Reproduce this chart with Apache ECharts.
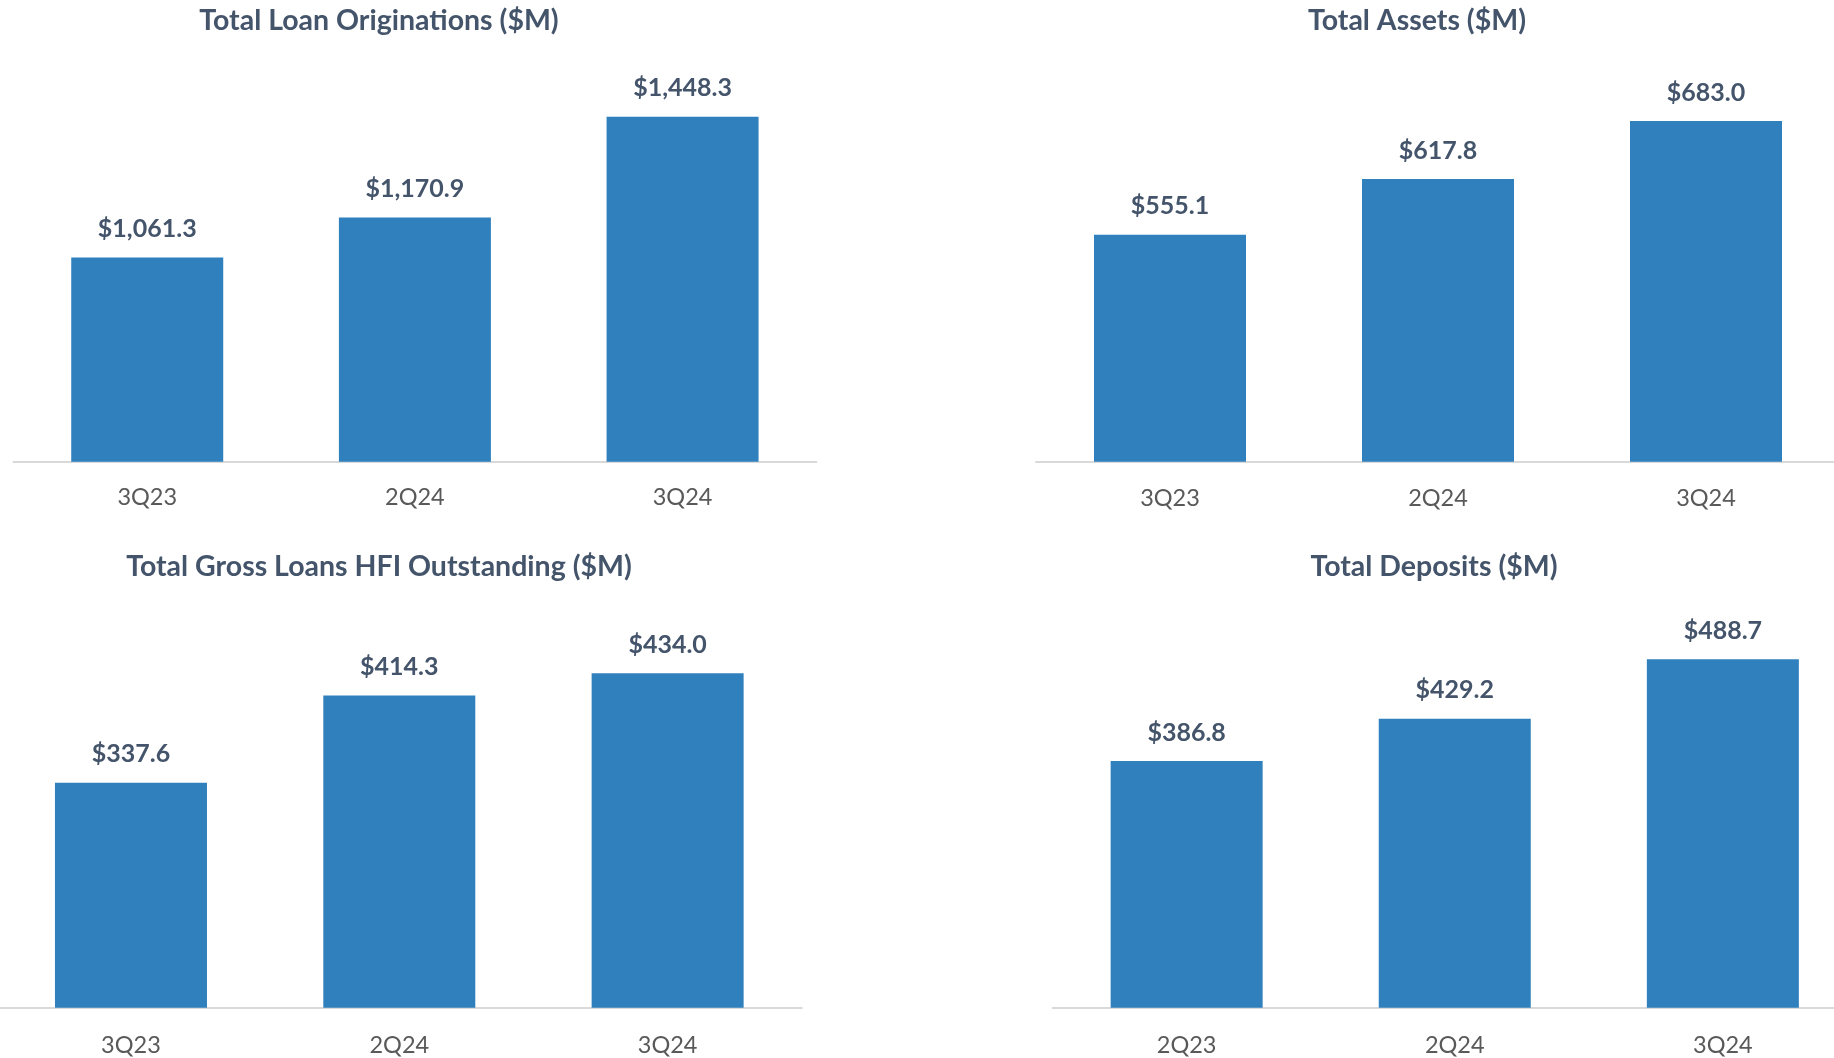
<!DOCTYPE html>
<html>
<head>
<meta charset="utf-8">
<script src="https://cdn.jsdelivr.net/npm/echarts@6/dist/echarts.min.js"></script>
<style>
html,body{margin:0;padding:0;background:#fff;overflow:hidden;width:1834px;height:1058px;}
/* 画布比窗口宽一点，左右都留出余量，免得网格被裁 */
#main{position:absolute;left:-20px;top:0;width:1900px;height:1058px;}
</style>
</head>
<body>
<div id="main"></div>
<script>
// 四个小图的数据
var titles = ['Total Loan Originations ($M)', 'Total Assets ($M)', 'Total Gross Loans HFI Outstanding ($M)', 'Total Deposits ($M)'];
var cats1 = ['3Q23', '2Q24', '3Q24'];
var cats2 = ['3Q23', '2Q24', '3Q24'];
var cats3 = ['3Q23', '2Q24', '3Q24'];
var cats4 = ['2Q23', '2Q24', '3Q24'];
var loans = [1061.3, 1170.9, 1448.3];
var assets = [555.1, 617.8, 683.0];
var grossLoans = [337.6, 414.3, 434.0];
var deposits = [386.8, 429.2, 488.7];

var myChart = echarts.init(document.getElementById('main'));

var fontName = 'Lato';
var dark = '#44546A';
var barColor = '#2F80BD';
var dx = 20; // 画布向左移了20px

// 每个图的位置（窗口坐标）
var boxes = [
    {left: 13.4, top: 61.5, width: 803, height: 400.2, min: 500, max: 1600, tx: 379, ty: 21, m: 24},
    {left: 1036, top: 61.5, width: 804, height: 400.2, min: 300, max: 750, tx: 1417, ty: 21, m: 25},
    {left: -3.2, top: 598, width: 805, height: 409.8, min: 140, max: 500, tx: 379, ty: 567, m: 26},
    {left: 1052.6, top: 598, width: 804.3, height: 409.8, min: 140, max: 550, tx: 1434, ty: 567, m: 26}
];
var allCats = [cats1, cats2, cats3, cats4];
var allData = [loans, assets, grossLoans, deposits];

function money(v){
    var s = v.toFixed(1);
    var parts = s.split('.');
    parts[0] = parts[0].replace(/\B(?=(\d{3})+(?!\d))/g, ',');
    return '$' + parts.join('.');
}

var option = {
    backgroundColor: '#fff',
    animation: false,
    title: [],
    grid: [],
    xAxis: [],
    yAxis: [],
    series: []
};

for (var i = 0; i < 4; i++) {
    var b = boxes[i];
    option.title.push({
        text: titles[i],
        left: b.tx + dx,
        top: b.ty,
        padding: 0,
        textAlign: 'center',
        textVerticalAlign: 'middle',
        textStyle: {fontFamily: fontName, fontSize: 28.5, fontWeight: 'bold', color: dark}
    });
    option.grid.push({left: b.left + dx, top: b.top, width: b.width, height: b.height, containLabel: false});
    option.xAxis.push({
        type: 'category',
        gridIndex: i,
        data: allCats[i],
        axisLine: {lineStyle: {color: '#D9D9D9', width: 2}},
        axisTick: {show: false},
        axisLabel: {fontFamily: fontName, fontSize: 23.5, color: '#595959', margin: b.m}
    });
    option.yAxis.push({
        type: 'value',
        gridIndex: i,
        min: b.min,
        max: b.max,
        show: false,
        splitLine: {show: false}
    });
    option.series.push({
        type: 'bar',
        xAxisIndex: i,
        yAxisIndex: i,
        data: allData[i],
        barWidth: 152,
        itemStyle: {color: barColor},
        label: {
            show: true,
            position: 'top',
            distance: 16,
            formatter: function(p){ return money(p.value); },
            fontFamily: fontName,
            fontSize: 25,
            fontWeight: 'bold',
            color: dark
        }
    });
}

myChart.setOption(option);
</script>
</body>
</html>
